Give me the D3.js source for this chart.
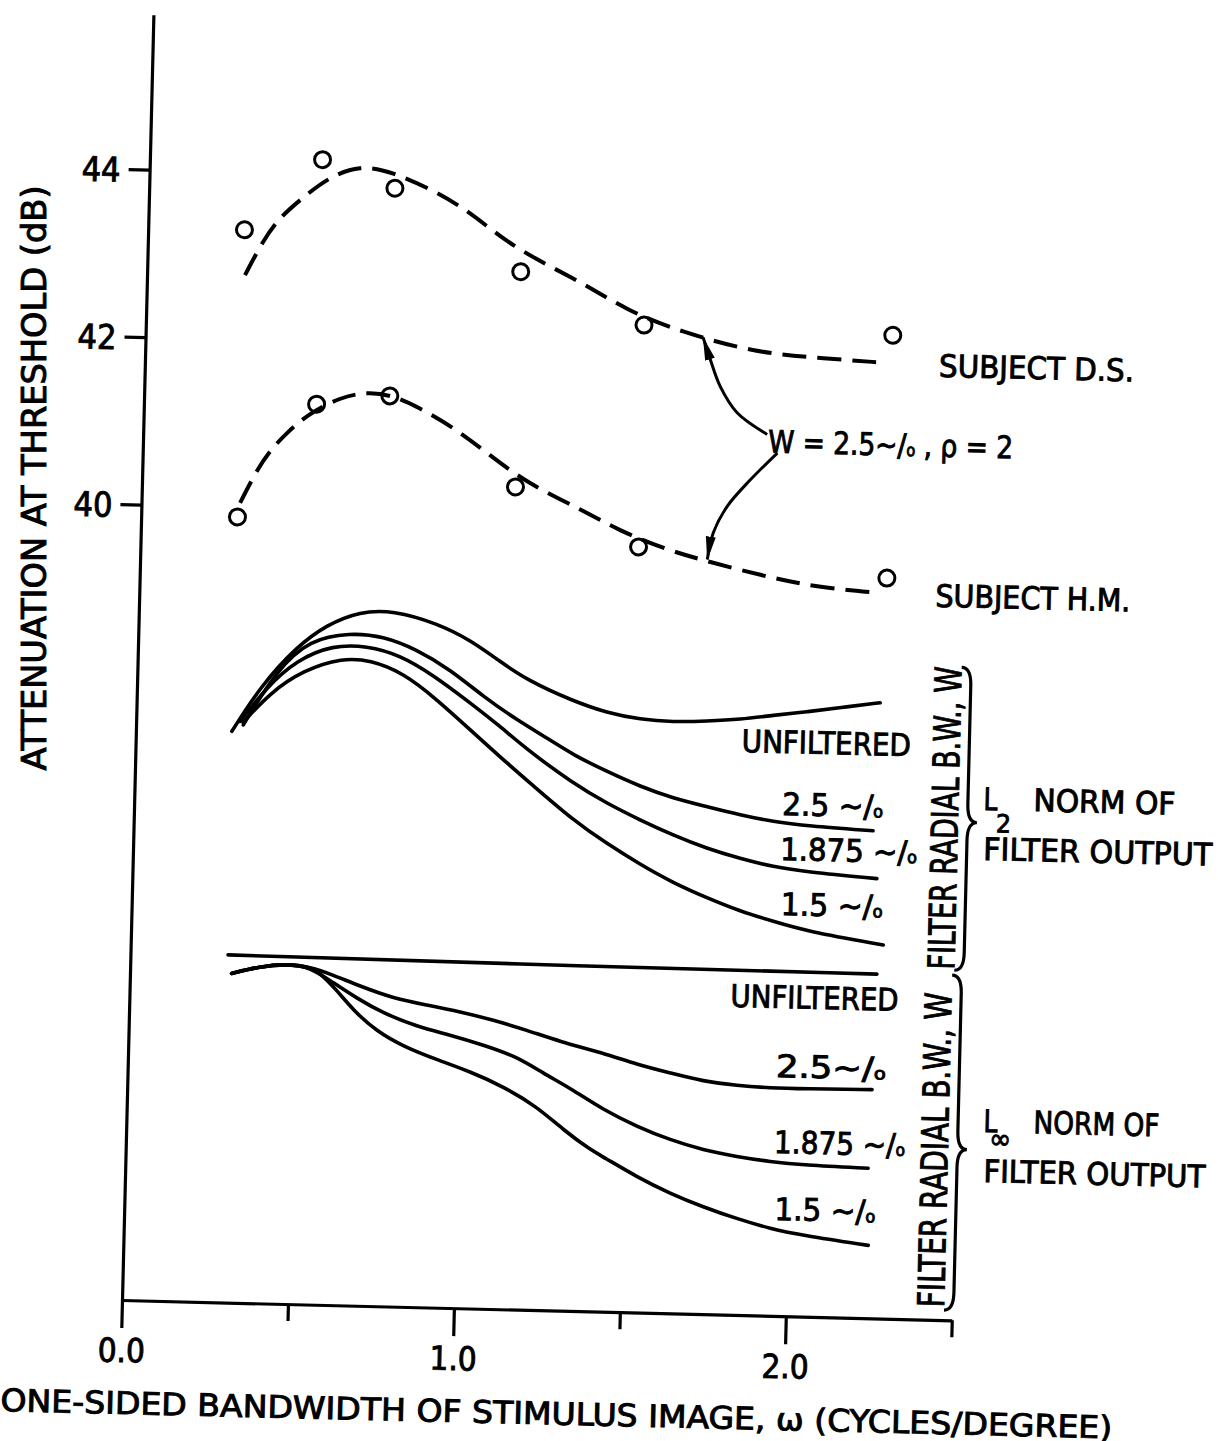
<!DOCTYPE html>
<html>
<head>
<meta charset="utf-8">
<script src="https://cdn.jsdelivr.net/npm/d3@7"></script>
<style>
  body { margin: 0; background: #fff; }
  text { font-family: "DejaVu Sans Condensed", "Liberation Sans Narrow", "DejaVu Sans", sans-serif; fill: #000; stroke: #000; stroke-width: 0.9px; }
</style>
</head>
<body>
<div id="chart"></div>
<script>
// measured thresholds (circles)
const bandwidths = [0.29, 0.52, 0.74, 1.125, 1.5, 2.25];
const dsThreshold = [43.31, 44.17, 43.85, 42.89, 42.29, 42.24];
const hmThreshold = [39.88, 41.25, 41.37, 40.32, 39.64, 39.34];

// model fits, W = 2.5 c/deg, p = 2 (dashed)
const dsFit = [[0.295,42.77],[0.347,43.19],[0.396,43.47],[0.455,43.68],[0.535,43.95],[0.633,44.12],[0.733,44.04],[0.855,43.84],[0.959,43.61],[1.06,43.30],[1.161,43.06],[1.314,42.77],[1.448,42.46],[1.609,42.22],[1.842,41.99],[2.023,41.95],[2.223,41.91]];
const hmFit = [[0.297,40.05],[0.348,40.47],[0.389,40.71],[0.433,40.90],[0.492,41.12],[0.59,41.34],[0.671,41.41],[0.746,41.38],[0.823,41.25],[0.932,41.02],[1.046,40.69],[1.159,40.37],[1.33,40.06],[1.434,39.84],[1.586,39.61],[1.716,39.48],[1.889,39.32],[2.04,39.21],[2.23,39.16]];

// L2 norm of filter output
const l2Unfiltered = [[0.289,37.32],[0.371,37.86],[0.478,38.35],[0.567,38.62],[0.666,38.79],[0.766,38.81],[0.898,38.67],[1.0,38.48],[1.092,38.23],[1.173,38.02],[1.314,37.78],[1.417,37.65],[1.518,37.58],[1.617,37.56],[1.719,37.58],[1.819,37.61],[1.918,37.67],[2.019,37.72],[2.119,37.78],[2.239,37.85]];
const l2W25 = [[0.323,37.40],[0.42,38.07],[0.518,38.44],[0.638,38.53],[0.737,38.50],[0.84,38.35],[0.942,38.12],[1.043,37.81],[1.146,37.54],[1.248,37.31],[1.318,37.14],[1.421,36.95],[1.523,36.78],[1.623,36.65],[1.725,36.56],[1.826,36.47],[1.926,36.40],[2.027,36.36],[2.227,36.32]];
const l2W1875 = [[0.313,37.44],[0.391,37.86],[0.479,38.19],[0.587,38.38],[0.689,38.38],[0.79,38.28],[0.891,38.05],[0.994,37.76],[1.096,37.46],[1.178,37.19],[1.32,36.80],[1.423,36.57],[1.525,36.38],[1.625,36.21],[1.728,36.06],[1.829,35.95],[1.929,35.86],[2.031,35.81],[2.242,35.75]];
const l2W15 = [[0.322,37.43],[0.401,37.79],[0.499,38.07],[0.618,38.23],[0.70,38.21],[0.80,38.07],[0.904,37.76],[1.006,37.41],[1.108,37.06],[1.191,36.79],[1.323,36.36],[1.426,36.09],[1.528,35.85],[1.629,35.64],[1.732,35.47],[1.833,35.32],[1.933,35.21],[2.035,35.10],[2.266,34.96]];

// L-infinity norm of filter output
const lInfUnfiltered = [[0.294,34.65],[1.385,34.62],[2.249,34.61]];
const lInfW25 = [[0.306,34.43],[0.391,34.52],[0.471,34.56],[0.542,34.53],[0.612,34.44],[0.684,34.33],[0.794,34.18],[0.896,34.11],[0.997,34.04],[1.097,33.95],[1.199,33.84],[1.30,33.71],[1.431,33.59],[1.533,33.46],[1.634,33.37],[1.734,33.28],[1.836,33.24],[1.936,33.22],[2.036,33.22],[2.243,33.23]];
const lInfW1875 = [[0.306,34.43],[0.391,34.52],[0.471,34.56],[0.542,34.53],[0.612,34.35],[0.685,34.17],[0.765,34.00],[0.868,33.85],[0.968,33.76],[1.069,33.65],[1.171,33.52],[1.251,33.33],[1.334,33.16],[1.435,32.91],[1.538,32.72],[1.639,32.57],[1.739,32.46],[1.841,32.39],[1.942,32.34],[2.041,32.31],[2.237,32.29]];
const lInfW15 = [[0.306,34.43],[0.391,34.52],[0.471,34.56],[0.542,34.53],[0.572,34.46],[0.624,34.26],[0.674,34.03],[0.747,33.78],[0.828,33.61],[0.93,33.46],[1.031,33.33],[1.132,33.16],[1.235,32.93],[1.316,32.66],[1.399,32.43],[1.438,32.35],[1.541,32.12],[1.643,31.93],[1.743,31.78],[1.845,31.65],[1.947,31.54],[2.046,31.47],[2.243,31.37]];

// arrows from the "W = 2.5" note to the two fits
const arrowUp = [[1.879,41.02],[1.787,41.27],[1.734,41.58],[1.702,41.90],[1.679,42.16]];
const arrowDown = [[1.911,40.80],[1.831,40.47],[1.764,40.15],[1.724,39.83],[1.708,39.51]];

const xTicks = [0, 0.5, 1, 1.5, 2, 2.5];
const xTickLabels = ['0.0', '', '1.0', '', '2.0', ''];
const yTicks = [40, 42, 44];

const width = 1218;
const height = 1441;

const svg = d3.select('#chart')
  .append('svg')
  .attr('width', width)
  .attr('height', height);

// the scanned figure is turned by about 1.4 degrees
const g = svg.append('g').attr('transform', 'rotate(1.4, 122, 1300)');

const x = d3.scaleLinear().domain([0, 2.5]).range([122, 952]);
const y = d3.scaleLinear().domain([30.5, 45.85]).range([1300, 14.4]);

// axes
const xAxis = g.append('g')
  .attr('transform', `translate(0, ${y(30.5)})`)
  .call(d3.axisBottom(x).tickValues(xTicks).tickSize(17).tickSizeOuter(0)
    .tickFormat((d, i) => xTickLabels[i]));
xAxis.selectAll('.tick line')
  .attr('y2', (d, i) => xTickLabels[i] ? 28 : 17);
xAxis.selectAll('.tick text')
  .attr('y', 62).attr('dy', 0)
  .style('font-size', '33px');

const yAxis = g.append('g')
  .attr('transform', `translate(${x(0)}, 0)`)
  .call(d3.axisLeft(y).tickValues(yTicks).tickSize(21).tickPadding(8).tickSizeOuter(0));
yAxis.selectAll('.tick text')
  .attr('dy', '0.36em')
  .style('font-size', '34px');

g.selectAll('.domain, .tick line')
  .attr('stroke', '#000')
  .attr('stroke-width', 3.2);
g.selectAll('.tick text').attr('fill', '#000')
  .style('font-family', '"DejaVu Sans Condensed", "Liberation Sans Narrow", "DejaVu Sans", sans-serif');

// curves
const line = d3.line()
  .x(d => x(d[0]))
  .y(d => y(d[1]))
  .curve(d3.curveBasis);

const arrowLine = d3.line()
  .x(d => x(d[0]))
  .y(d => y(d[1]))
  .curve(d3.curveCatmullRom.alpha(0.5));

g.selectAll('path.fit')
  .data([dsFit, hmFit])
  .join('path')
    .attr('class', 'fit')
    .attr('d', line)
    .attr('fill', 'none')
    .attr('stroke', '#000')
    .attr('stroke-width', 4)
    .attr('stroke-dasharray', '24 11');

g.selectAll('path.model')
  .data([l2Unfiltered, l2W25, l2W1875, l2W15, lInfUnfiltered, lInfW25, lInfW1875, lInfW15])
  .join('path')
    .attr('class', 'model')
    .attr('d', line)
    .attr('fill', 'none')
    .attr('stroke', '#000')
    .attr('stroke-width', 3.6)
    .attr('stroke-linecap', 'round');

// measured points
const pts = bandwidths.map((b, i) => [b, dsThreshold[i]])
  .concat(bandwidths.map((b, i) => [b, hmThreshold[i]]));
g.selectAll('circle.obs')
  .data(pts)
  .join('circle')
    .attr('class', 'obs')
    .attr('cx', d => x(d[0]))
    .attr('cy', d => y(d[1]))
    .attr('r', 8)
    .attr('fill', 'none')
    .attr('stroke', '#000')
    .attr('stroke-width', 3);

// arrows
svg.append('defs').append('marker')
  .attr('id', 'head')
  .attr('viewBox', '0 0 24 12')
  .attr('refX', 23).attr('refY', 6)
  .attr('markerWidth', 24).attr('markerHeight', 12)
  .attr('markerUnits', 'userSpaceOnUse')
  .attr('orient', 'auto')
  .append('path')
    .attr('d', 'M0,1 L24,6 L0,11 Z')
    .attr('fill', '#000');

g.selectAll('path.arrow')
  .data([arrowUp, arrowDown])
  .join('path')
    .attr('class', 'arrow')
    .attr('d', arrowLine)
    .attr('fill', 'none')
    .attr('stroke', '#000')
    .attr('stroke-width', 3)
    .attr('marker-end', 'url(#head)');

// braces
function brace(x0, y0, y1, ym, h) {
  const r = 18;
  return `M${x0},${y0} Q${x0 + h},${y0} ${x0 + h},${y0 + r} L${x0 + h},${ym - r} ` +
    `Q${x0 + h},${ym} ${x0 + 2 * h},${ym} Q${x0 + h},${ym} ${x0 + h},${ym + r} ` +
    `L${x0 + h},${y1 - r} Q${x0 + h},${y1} ${x0},${y1}`;
}
g.append('path')
  .attr('d', brace(946, 647, 950, 802, 9.5))
  .attr('fill', 'none').attr('stroke', '#000').attr('stroke-width', 3.2);
g.append('path')
  .attr('d', brace(944, 955, 1290, 1129, 9.5))
  .attr('fill', 'none').attr('stroke', '#000').attr('stroke-width', 3.2);

// plain labels
const labels = [
  { t: 'SUBJECT D.S.', x: 916, y: 357, len: 195, fs: 31 },
  { t: 'SUBJECT H.M.', x: 918, y: 587, len: 195, fs: 31 },
  { t: 'UNFILTERED', x: 728, y: 737, len: 169, fs: 31 },
  { t: 'FILTER OUTPUT', x: 972, y: 839, len: 229, fs: 31 },
  { t: 'UNFILTERED', x: 723, y: 992, len: 168, fs: 31 },
  { t: 'FILTER OUTPUT', x: 980, y: 1161, len: 222, fs: 31 },
  { t: 'NORM OF', x: 1021, y: 789, len: 142, fs: 31 },
  { t: 'NORM OF', x: 1029, y: 1111, len: 126, fs: 31 },
  { t: 'L', x: 971, y: 789, len: 14, fs: 31 },
  { t: 'L', x: 979, y: 1111, len: 14, fs: 31 },
  { t: '2', x: 984, y: 811, len: 15, fs: 25 },
  { t: '∞', x: 985, y: 1127, len: 22, fs: 28 },
  { t: 'ONE-SIDED BANDWIDTH OF STIMULUS IMAGE, ω  (CYCLES/DEGREE)', x: 3, y: 1414, len: 1112, fs: 31 }
];
g.selectAll('text.lab')
  .data(labels)
  .join('text')
    .attr('class', 'lab')
    .attr('x', d => d.x)
    .attr('y', d => d.y)
    .attr('textLength', d => d.len)
    .attr('lengthAdjust', 'spacingAndGlyphs')
    .style('font-size', d => d.fs + 'px')
    .text(d => d.t);

// "n ~/o" cycles-per-degree labels
const cpd = [
  { t: 'W = 2.5', tail: ' ,  ρ = 2', x: 747, y: 437, len: 245 },
  { t: '2.5 ', x: 770, y: 799, len: 101 },
  { t: '1.875 ', x: 769, y: 844, len: 137 },
  { t: '1.5 ', x: 771, y: 899, len: 102 },
  { t: '2.5', x: 770, y: 1061, len: 110 },
  { t: '1.875 ', x: 770, y: 1137, len: 131 },
  { t: '1.5 ', x: 772, y: 1204, len: 101 }
];
cpd.forEach(d => {
  const t = g.append('text')
    .attr('x', d.x).attr('y', d.y)
    .attr('textLength', d.len)
    .attr('lengthAdjust', 'spacingAndGlyphs')
    .style('font-size', '31px');
  t.append('tspan').text(d.t + '∼/');
  t.append('tspan').style('font-size', '17px').text('o');
  if (d.tail) t.append('tspan').text(d.tail);
});

// vertical labels
[{ x: 946, y: 798, len: 303 }, { x: 944, y: 1130, len: 315 }].forEach(d => {
  g.append('text')
    .attr('transform', `translate(${d.x},${d.y}) rotate(-90)`)
    .attr('text-anchor', 'middle')
    .attr('textLength', d.len)
    .attr('lengthAdjust', 'spacingAndGlyphs')
    .style('font-size', '37px')
    .text('FILTER RADIAL B.W., W');
});

svg.append('text')
  .attr('transform', 'translate(46,478) rotate(-90)')
  .attr('text-anchor', 'middle')
  .attr('textLength', 585)
  .attr('lengthAdjust', 'spacingAndGlyphs')
  .style('font-size', '33px')
  .text('ATTENUATION AT THRESHOLD (dB)');

svg.node();
</script>
</body>
</html>
